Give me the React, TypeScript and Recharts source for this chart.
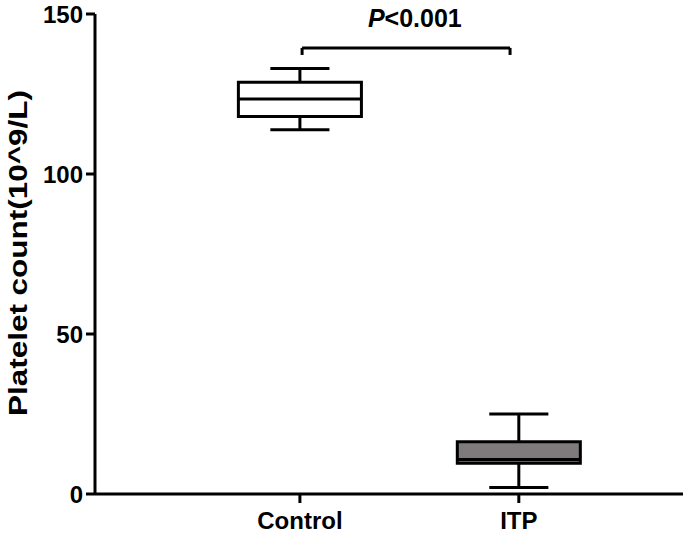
import { ComposedChart, XAxis, YAxis, Scatter, ReferenceArea, ReferenceLine, ReferenceDot } from 'recharts'

// platelet counts per group (10^9/L)
const groups = ['Control', 'ITP']
const minV   = [113.8, 2.0]
const q1V    = [118.0, 9.6]
const medV   = [123.4, 10.8]
const q3V    = [128.7, 16.3]
const maxV   = [133.0, 25.0]
const fills  = ['#ffffff', '#7f7b7d']

const yTicks = [0, 50, 100, 150]

// significance bracket between the two groups
const bracketTop  = 139.4
const bracketFoot = 137.2
const pSymbol     = 'P'
const pValue      = '<0.001'
const pTextY      = 146

const FONT = '"Liberation Sans", Arial, sans-serif'
const BOX_HALF = 0.281
const CAP_HALF = 0.135
const LW = 3

const points = groups.map((g, i) => ({ x: i + 1, y: medV[i], name: g }))

function PText(props: any) {
  const { cx, cy } = props
  return (
    <text x={cx} y={cy} textAnchor="middle" fontFamily={FONT} fontWeight="bold" fontSize={25} fill="#000">
      <tspan fontStyle="italic">{pSymbol}</tspan>
      <tspan>{pValue}</tspan>
    </text>
  )
}

function YLabel() {
  return (
    <text
      transform="translate(27,253) rotate(-90)"
      textAnchor="middle"
      fontFamily={FONT}
      fontWeight="bold"
      fontSize={25}
      fill="#000"
      textLength={326}
      lengthAdjust="spacingAndGlyphs"
    >
      Platelet count(10^9/L)
    </text>
  )
}

export default function App() {
  return (
    <div style={{ position: 'absolute', left: 0, top: 0, background: '#fff' }}>
      <ComposedChart width={683} height={535} margin={{ top: 14, right: 0, bottom: 0, left: 0 }}>
        <XAxis
          type="number"
          dataKey="x"
          domain={[0.064, 2.75]}
          allowDataOverflow
          ticks={[1, 2]}
          tickFormatter={(v: number) => groups[v - 1] ?? ''}
          axisLine={{ stroke: '#000', strokeWidth: LW }}
          tickLine={{ stroke: '#000', strokeWidth: LW }}
          tickSize={9}
          tickMargin={9}
          height={41}
          tick={{ fill: '#000', fontSize: 24, fontWeight: 'bold', fontFamily: FONT }}
        />
        <YAxis
          type="number"
          dataKey="y"
          domain={[0, 150]}
          allowDataOverflow
          ticks={yTicks}
          axisLine={{ stroke: '#000', strokeWidth: LW }}
          tickLine={{ stroke: '#000', strokeWidth: LW }}
          tickSize={9}
          tickMargin={3}
          width={95}
          tick={{ fill: '#000', fontSize: 24, fontWeight: 'bold', fontFamily: FONT }}
          label={<YLabel />}
        />
        <Scatter data={points} dataKey="y" shape={() => <g />} isAnimationActive={false} />

        {groups.map((g, i) => {
          const x = i + 1
          return [
            <ReferenceLine key={g + 'wu'} segment={[{ x, y: q3V[i] }, { x, y: maxV[i] }]} stroke="#000" strokeWidth={LW} />,
            <ReferenceLine key={g + 'wl'} segment={[{ x, y: q1V[i] }, { x, y: minV[i] }]} stroke="#000" strokeWidth={LW} />,
            <ReferenceLine key={g + 'cu'} segment={[{ x: x - CAP_HALF, y: maxV[i] }, { x: x + CAP_HALF, y: maxV[i] }]} stroke="#000" strokeWidth={LW} />,
            <ReferenceLine key={g + 'cl'} segment={[{ x: x - CAP_HALF, y: minV[i] }, { x: x + CAP_HALF, y: minV[i] }]} stroke="#000" strokeWidth={LW} />,
            <ReferenceArea
              key={g + 'box'}
              x1={x - BOX_HALF}
              x2={x + BOX_HALF}
              y1={q1V[i]}
              y2={q3V[i]}
              fill={fills[i]}
              fillOpacity={1}
              stroke="#000"
              strokeWidth={LW}
            />,
            <ReferenceLine key={g + 'med'} segment={[{ x: x - BOX_HALF, y: medV[i] }, { x: x + BOX_HALF, y: medV[i] }]} stroke="#000" strokeWidth={LW} />,
          ]
        })}

        {/* bracket */}
        <ReferenceLine segment={[{ x: 1.01, y: bracketTop }, { x: 1.96, y: bracketTop }]} stroke="#000" strokeWidth={LW} />
        <ReferenceLine segment={[{ x: 1.01, y: bracketTop }, { x: 1.01, y: bracketFoot }]} stroke="#000" strokeWidth={LW} />
        <ReferenceLine segment={[{ x: 1.96, y: bracketTop }, { x: 1.96, y: bracketFoot }]} stroke="#000" strokeWidth={LW} />
        <ReferenceDot x={1.525} y={pTextY} r={0} shape={(p: any) => <PText {...p} />} />
      </ComposedChart>
    </div>
  )
}
